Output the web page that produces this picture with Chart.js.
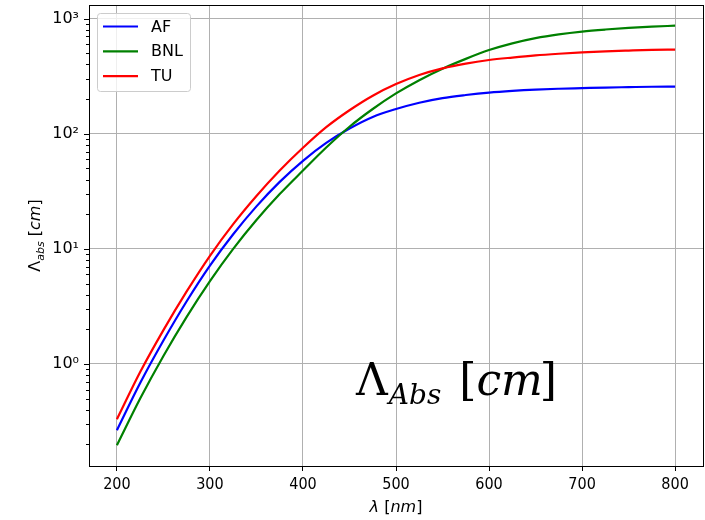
<!DOCTYPE html>
<html>
<head>
<meta charset="utf-8">
<script src="https://cdn.jsdelivr.net/npm/chart.js@4.4.1/dist/chart.umd.min.js"></script>
<style>
  html, body { margin: 0; padding: 0; background: #fff; }
  #graphique-absorption { display: block; }
</style>
</head>
<body>
<canvas id="graphique-absorption" width="705" height="520"></canvas>
<script>
// Longueurs d'onde (nm) et longueurs d'absorption (cm)
const longueursOnde = [200, 225, 250, 275, 300, 325, 350, 375, 400, 425, 450, 475, 500,
  525, 550, 575, 600, 625, 650, 675, 700, 725, 750, 775, 800];
const valeursAF = [0.266, 0.684, 1.60, 3.51, 7.16, 13.4, 23.4, 38.2, 58.2, 83.2, 111, 140, 164,
  186, 204, 217, 228, 236, 242, 246, 249, 252, 254, 256, 257];
const valeursBNL = [0.197, 0.501, 1.175, 2.57, 5.25, 10.0, 17.8, 29.9, 47.9, 75.9, 115, 164, 224,
  292, 367, 447, 533, 610, 677, 730, 772, 804, 831, 852, 868];
const valeursTU = [0.331, 0.851, 1.97, 4.27, 8.71, 16.4, 28.8, 47.9, 75.5, 114, 160, 214, 270,
  324, 370, 407, 437, 459, 479, 495, 509, 520, 528, 535, 538];

const ticksX = [200, 300, 400, 500, 600, 700, 800];
const decadesY = [0.1, 1, 10, 100, 1000];
const exposants = { "-1": "⁻¹", "0": "⁰", "1": "¹", "2": "²", "3": "³" };

const yMin = 0.13;
const yMax = 1313;

function estPuissanceDeDix(v) {
  const l = Math.log10(v);
  return Math.abs(l - Math.round(l)) < 1e-9;
}

// graduations mineures du log : 1..9 x 10^n
const ticksY = [];
for (const d of decadesY) {
  for (let m = 1; m <= 9; m++) {
    const v = +(m * d).toPrecision(6);
    if (v >= yMin && v <= yMax) ticksY.push(v);
  }
}

function points(valeurs) {
  return longueursOnde.map((l, i) => ({ x: l, y: valeurs[i] }));
}

// Traits de graduation de l'axe y (majeurs plus longs que les mineurs)
const graduationsY = {
  id: "graduationsY",
  afterDraw(chart) {
    const ctx = chart.ctx;
    const echelle = chart.scales.y;
    const zone = chart.chartArea;
    ctx.save();
    ctx.strokeStyle = "#000";
    ctx.lineWidth = 1;
    for (const tick of echelle.ticks) {
      const py = Math.round(echelle.getPixelForValue(tick.value)) + 0.5;
      const longueur = estPuissanceDeDix(tick.value) ? 5 : 3;
      ctx.beginPath();
      ctx.moveTo(zone.left - longueur, py);
      ctx.lineTo(zone.left, py);
      ctx.stroke();
    }
    // cadre complet autour du graphique
    ctx.strokeRect(Math.round(zone.left) + 0.5, Math.round(zone.top) + 0.5,
      Math.round(zone.right - zone.left), Math.round(zone.bottom - zone.top));
    ctx.restore();
  }
};

// Légende en haut à gauche, dans la zone du graphique
const legendeInterne = {
  id: "legendeInterne",
  afterDraw(chart) {
    const ctx = chart.ctx;
    const zone = chart.chartArea;
    const x0 = zone.left + 8;
    const y0 = zone.top + 8;
    ctx.save();
    ctx.fillStyle = "rgba(255,255,255,0.8)";
    ctx.strokeStyle = "#cccccc";
    ctx.lineWidth = 1;
    ctx.beginPath();
    ctx.roundRect(Math.round(x0) + 0.5, Math.round(y0) + 0.5, 93, 78, 3);
    ctx.fill();
    ctx.stroke();
    ctx.font = "16px 'DejaVu Sans'";
    ctx.textBaseline = "middle";
    chart.data.datasets.forEach((ds, i) => {
      const yy = y0 + 13.5 + i * 24.8;
      ctx.strokeStyle = ds.borderColor;
      ctx.lineWidth = 2.2;
      ctx.beginPath();
      ctx.moveTo(x0 + 6, yy);
      ctx.lineTo(x0 + 41, yy);
      ctx.stroke();
      ctx.fillStyle = "#000";
      ctx.fillText(ds.label, x0 + 54, yy + 1);
    });
    ctx.restore();
  }
};

// dessine une suite de morceaux de texte avec leur police et décalage
function ecrireMorceaux(ctx, morceaux, x, y) {
  let curseur = x;
  for (const m of morceaux) {
    ctx.font = m.police;
    ctx.fillText(m.texte, curseur, y + (m.dy || 0));
    curseur += ctx.measureText(m.texte).width + (m.apres || 0);
  }
  return curseur;
}

function largeurMorceaux(ctx, morceaux) {
  let total = 0;
  for (const m of morceaux) {
    ctx.font = m.police;
    total += ctx.measureText(m.texte).width + (m.apres || 0);
  }
  return total;
}

// Titres des axes et grande annotation
const textes = {
  id: "textes",
  afterDraw(chart) {
    const ctx = chart.ctx;
    const zone = chart.chartArea;
    const x = chart.scales.x;
    const y = chart.scales.y;
    ctx.save();
    ctx.fillStyle = "#000";
    ctx.textBaseline = "alphabetic";
    ctx.textAlign = "left";

    const titreX = [
      { texte: "λ", police: "italic 16px 'DejaVu Sans'", apres: 0 },
      { texte: " [", police: "16px 'DejaVu Sans'" },
      { texte: "nm", police: "italic 16px 'DejaVu Sans'" },
      { texte: "]", police: "16px 'DejaVu Sans'" }
    ];
    const cx = (zone.left + zone.right) / 2;
    ecrireMorceaux(ctx, titreX, cx - largeurMorceaux(ctx, titreX) / 2, 512);

    const titreY = [
      { texte: "Λ", police: "16px 'DejaVu Sans'" },
      { texte: "abs", police: "italic 11px 'DejaVu Sans'", dy: 3.5 },
      { texte: " [", police: "16px 'DejaVu Sans'" },
      { texte: "cm", police: "italic 16px 'DejaVu Sans'" },
      { texte: "]", police: "16px 'DejaVu Sans'" }
    ];
    const cy = (zone.top + zone.bottom) / 2;
    ctx.save();
    ctx.translate(40, cy);
    ctx.rotate(-Math.PI / 2);
    ecrireMorceaux(ctx, titreY, -largeurMorceaux(ctx, titreY) / 2, 0);
    ctx.restore();

    const annotation = [
      { texte: "Λ", police: "44px 'DejaVu Serif'", apres: 1 },
      { texte: "Abs", police: "italic 28px 'DejaVu Serif'", dy: 9, apres: 4 },
      { texte: " [", police: "44px 'DejaVu Serif'" },
      { texte: "cm", police: "italic 44px 'DejaVu Serif'", apres: -3 },
      { texte: "]", police: "44px 'DejaVu Serif'" }
    ];
    ecrireMorceaux(ctx, annotation, x.getPixelForValue(457), y.getPixelForValue(0.535));
    ctx.restore();
  }
};

const data = {
  datasets: [
    { label: "AF", data: points(valeursAF), borderColor: "#0000ff", order: 2 },
    { label: "BNL", data: points(valeursBNL), borderColor: "#008000", order: 1 },
    { label: "TU", data: points(valeursTU), borderColor: "#ff0000", order: 0 }
  ]
};
for (const ds of data.datasets) {
  ds.borderWidth = 2.2;
  ds.pointRadius = 0;
  ds.fill = false;
  ds.cubicInterpolationMode = "monotone";
}

const config = {
  type: "line",
  data: data,
  options: {
    responsive: false,
    animation: false,
    devicePixelRatio: 1,
    layout: { padding: { top: 5, right: 2, left: 0, bottom: 0 } },
    plugins: { legend: { display: false }, tooltip: { enabled: false } },
    scales: {
      x: {
        type: "linear",
        min: 170,
        max: 830,
        afterBuildTicks: (echelle) => {
          echelle.ticks = ticksX.map((v) => ({ value: v }));
        },
        afterFit: (echelle) => {
          echelle.height = 54;
          echelle.paddingLeft = 0;
          echelle.paddingRight = 0;
        },
        grid: { color: "#b0b0b0", lineWidth: 1, drawTicks: true, tickLength: 5, tickColor: "#000" },
        border: { display: false },
        ticks: {
          color: "#000",
          padding: 4,
          maxRotation: 0,
          font: { family: "'Liberation Sans Narrow', 'DejaVu Sans Condensed', 'DejaVu Sans'", size: 16 }
        }
      },
      y: {
        type: "logarithmic",
        min: yMin,
        max: yMax,
        afterBuildTicks: (echelle) => {
          echelle.ticks = ticksY.map((v) => ({ value: v }));
        },
        afterFit: (echelle) => {
          echelle.width = 89;
          echelle.paddingTop = 0;
          echelle.paddingBottom = 0;
        },
        grid: {
          color: (ctx) => (ctx.tick && estPuissanceDeDix(ctx.tick.value) ? "#b0b0b0" : "rgba(0,0,0,0)"),
          lineWidth: 1,
          drawTicks: false
        },
        border: { display: false },
        ticks: {
          color: "#000",
          padding: 10,
          autoSkip: false,
          font: { family: "'DejaVu Sans'", size: 16 },
          callback: (v) => {
            if (!estPuissanceDeDix(v)) return "";
            return "10" + exposants[String(Math.round(Math.log10(v)))];
          }
        }
      }
    }
  },
  plugins: [graduationsY, legendeInterne, textes]
};

new Chart(document.querySelector("#graphique-absorption"), config);
</script>
</body>
</html>
